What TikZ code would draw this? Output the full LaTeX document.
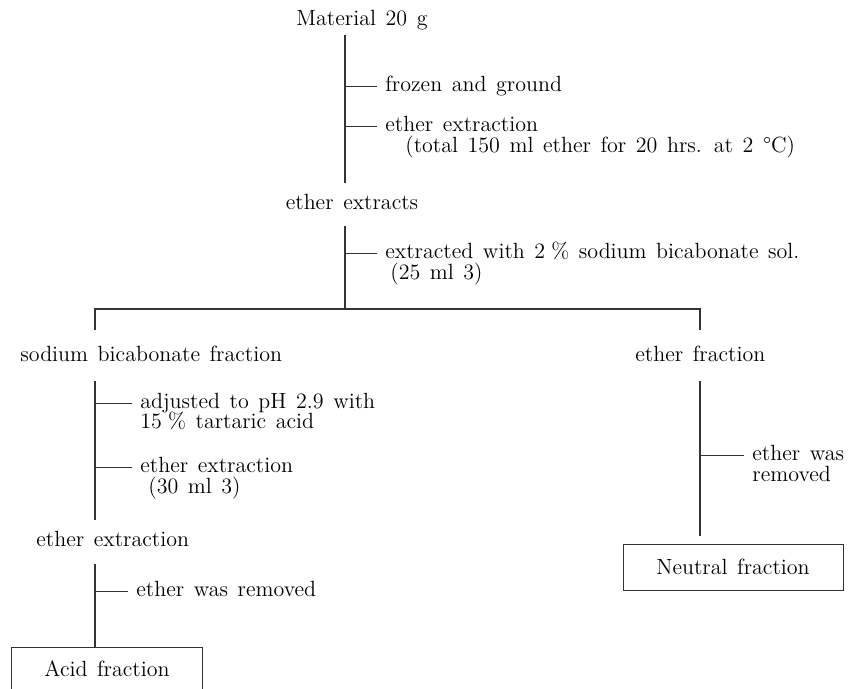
\documentclass[tikz,border=0pt]{standalone}
\usetikzlibrary{positioning}
\begin{document}
\begin{tikzpicture}[x=0.5pt,y=-0.5pt,
  font={\fontsize{11}{13}\selectfont\spaceskip=4.8pt plus 1pt\relax}]
% --- Layout & Styles --------------------------------------
\tikzstyle{stage}=[inner sep=0pt, text height=7.5pt, text depth=2pt]
\tikzstyle{note}=[inner sep=0pt, text height=7.5pt, text depth=2pt, anchor=west]
\tikzstyle{trunk}=[line width=0.55pt, black!80]
\tikzstyle{tick}=[line width=0.4pt, black!80, shorten >=4pt]
\tikzstyle{result}=[inner sep=0pt, line width=0.45pt, black!80, text=black]
\useasboundingbox (0,0) rectangle (862,689);

% --- Stages -----------------------------------------------
\node (mat) [stage] at (362,20) {Material 20 g};
\node (ext) [stage] at (352,204) {ether extracts};
\node (sod) [stage, anchor=west] at (20,356) {sodium bicabonate fraction};
\node (eth) [stage, anchor=west] at (635,356) {ether fraction};
\node (acx) [stage, anchor=west] at (36,541) {ether extraction};
\node (acid) [result, minimum width=95pt, minimum height=20.5pt] at (107,668.5) {Acid fraction};
\node (neut) [result, draw, minimum width=110pt, minimum height=23pt] at (733,567) {Neutral fraction};

% --- Notes ------------------------------------------------
\node (n1) [note] at (385,86) {frozen and ground};
\node (n2) [note] at (385,126) {ether extraction};
\node (n2b) [note] at (405,147) {(total 150 ml ether for 20 hrs. at 2 \textdegree C)};
\node (n3) [note] at (385,253) {extracted with 2\;\% sodium bicabonate sol.};
\node (n3b) [note] at (390,274) {(25 ml 3)};
\node (n4) [note] at (140,403) {adjusted to pH 2.9 with};
\node (n4b) [note] at (140,423) {15\;\% tartaric acid};
\node (n5) [note] at (140,467) {ether extraction};
\node (n5b) [note] at (148,488) {(30 ml 3)};
\node (n6) [note] at (136,591) {ether was removed};
\node (n7) [note] at (752,455) {ether was};
\node (n7b) [note] at (752,476) {removed};

% --- Edges ------------------------------------------------
\coordinate (m0) at (345,35);
\coordinate (m1) at (345,183);
\coordinate (k1) at (345,86);
\coordinate (k2) at (345,126);
\draw [trunk] (m0) -- (m1);
\draw [tick] (k1) -- (n1.west);
\draw [tick] (k2) -- (n2.west);

\coordinate (e0) at (345,226);
\coordinate (e1) at (345,309);
\coordinate (k3) at (345,253);
\draw [trunk] (e0) -- (e1);
\draw [tick] (k3) -- (n3.west);

% split into the two fractions
\coordinate (s0) at (95,330);
\coordinate (s1) at (95,309);
\coordinate (s2) at (700,309);
\coordinate (s3) at (700,330);
\draw [trunk] (s0) -- (s1) -- (s2) -- (s3);

% left branch
\coordinate (l0) at (95,381);
\coordinate (l1) at (95,520);
\coordinate (k4) at (95,403);
\coordinate (k5) at (95,467);
\draw [trunk] (l0) -- (l1);
\draw [tick] (k4) -- (n4.west);
\draw [tick] (k5) -- (n5.west);

\coordinate (q0) at (95,564);
\coordinate (k6) at (95,591);
\draw [trunk] (q0) -- (q0 |- acid.north);
\draw [tick] (k6) -- (n6.west);
\draw [result] (acid.south west) -- (acid.north west) -- (acid.north east) -- (acid.south east);

% right branch
\coordinate (r0) at (700,381);
\coordinate (k7) at (700,455);
\draw [trunk, shorten >=4pt] (r0) -- (r0 |- neut.north);
\draw [tick] (k7) -- (n7.west);

\end{tikzpicture}
\end{document}
